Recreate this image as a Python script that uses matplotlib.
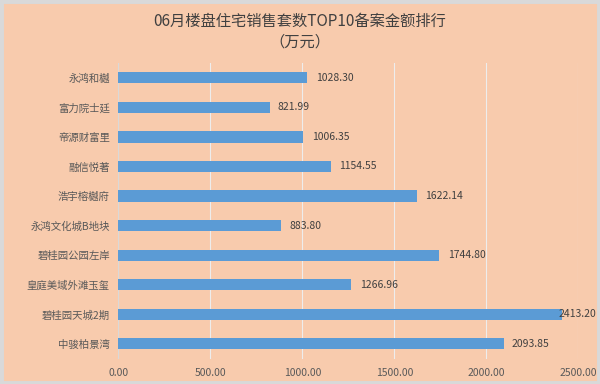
import matplotlib
matplotlib.use("Agg")
import matplotlib.pyplot as plt
from matplotlib.patches import Rectangle

plt.rcParams['font.family'] = ['Noto Sans CJK SC', 'DejaVu Sans']

names = ['永鸿和樾', '富力院士廷', '帝源财富里', '融信悦著', '浩宇榕樾府',
         '永鸿文化城B地块', '碧桂园公园左岸', '皇庭美域外滩玉玺', '碧桂园天城2期', '中骏柏景湾']
values = [1028.30, 821.99, 1006.35, 1154.55, 1622.14,
          883.80, 1744.80, 1266.96, 2413.20, 2093.85]
xticks = [0, 500, 1000, 1500, 2000, 2500]

bg = '#F8CBAD'
fig = plt.figure(figsize=(6, 3.84), dpi=100, facecolor=bg)
fig.patches.append(Rectangle((0, 0), 1, 1, transform=fig.transFigure,
                             fill=False, edgecolor='#D9D9D9', linewidth=5))
ax = fig.add_axes([0.197, 0.066, 0.767, 0.77])
ax.set_facecolor(bg)

pos = list(range(len(names)))[::-1]
ax.barh(pos, values, height=0.38, color='#5B9BD5', zorder=3)
for p, v in zip(pos, values):
    # labels that would run past the edge are pulled back over the bar end
    ax.text(min(v + 45, 2390), p, f'{v:.2f}', va='center', ha='left',
            fontsize=7.5, color='#404040', zorder=4)

ax.set_xlim(0, 2500)
ax.set_ylim(-0.5, len(names) - 0.5)
ax.set_yticks(pos)
ax.set_yticklabels(names, fontsize=7.5, color='#595959')
ax.set_xticks(xticks)
ax.set_xticklabels([f'{t:.2f}' for t in xticks], fontsize=7.5, color='#595959')
ax.tick_params(length=0, pad=6)
ax.tick_params(axis='x', pad=7)
ax.grid(axis='x', color='#EDEDED', linewidth=0.8, zorder=0)
for s in ax.spines.values():
    s.set_visible(False)
ax.axvline(0, color='#D9D9D9', linewidth=0.8, zorder=2)

fig.text(0.5, 0.945, '06月楼盘住宅销售套数TOP10备案金额排行', ha='center', va='center',
         fontsize=11, color='#404040')
fig.text(0.5, 0.89, '（万元）', ha='center', va='center', fontsize=11, color='#404040')

fig.savefig('out.png', dpi=100, facecolor=bg)
